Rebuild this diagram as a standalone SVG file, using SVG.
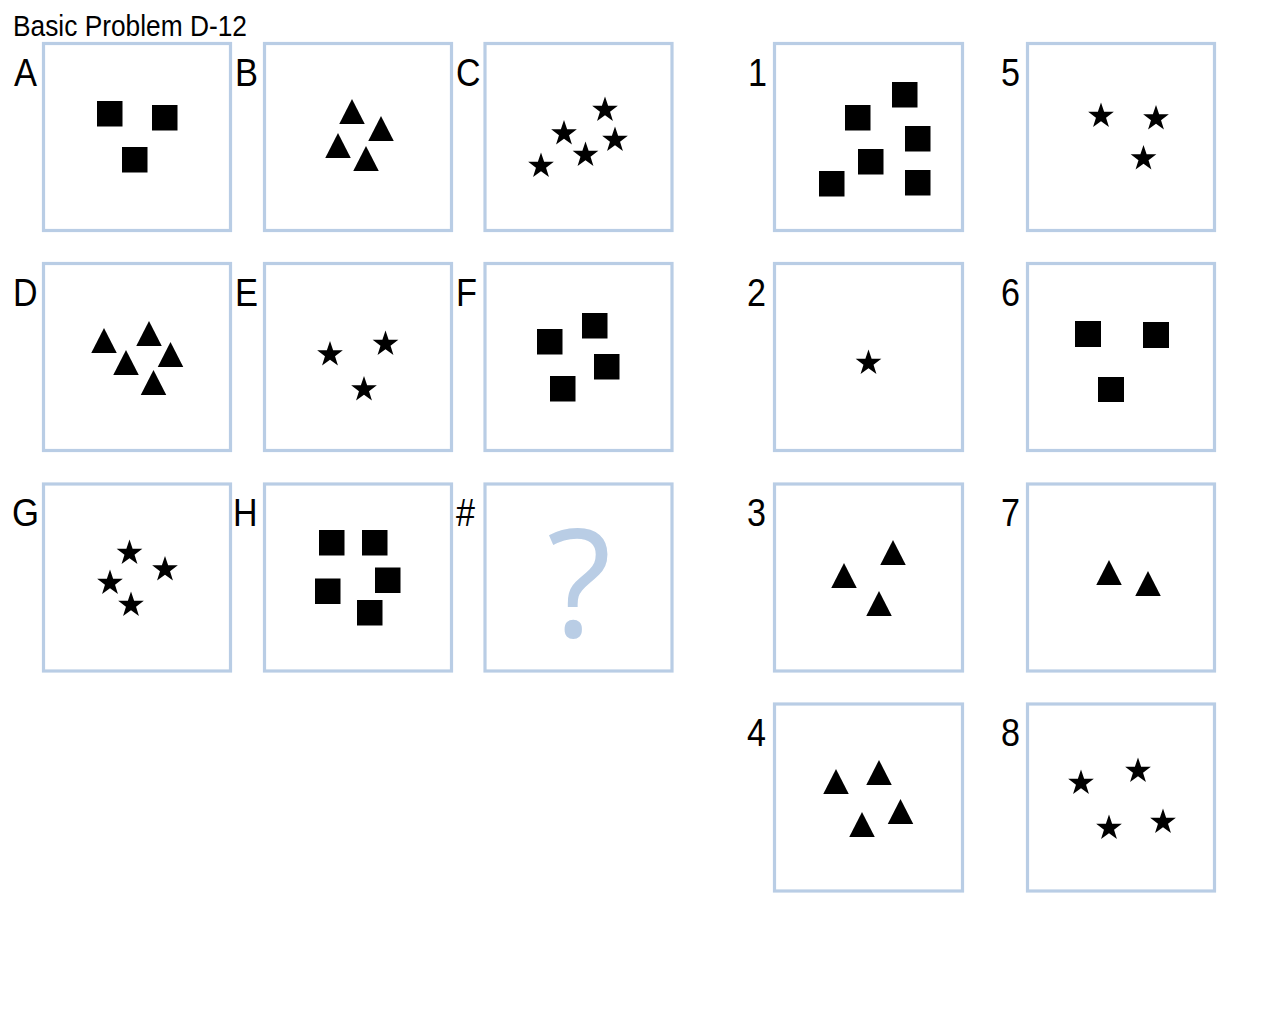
<svg xmlns="http://www.w3.org/2000/svg" xmlns:xlink="http://www.w3.org/1999/xlink" width="1280" height="1024" viewBox="0 0 1280 1024">
<style>
.box{fill:#fff;stroke:#b9cde5;stroke-width:3.2}
.lbl{font-family:"Liberation Sans",Arial,sans-serif;font-size:39px;fill:#000}
.sq{fill:#000}
.q{font-family:"Open Sans","Noto Sans",sans-serif;font-size:150px;fill:#b9cde5;text-anchor:middle}
</style>
<defs>
<path id="star" d="M0,-13.5 L3.12,-4.29 L12.84,-4.17 L5.04,1.64 L7.94,10.92 L0,5.3 L-7.94,10.92 L-5.04,1.64 L-12.84,-4.17 L-3.12,-4.29 Z" fill="#000"/>
<path id="tri" d="M0,-25 L12.75,0 L-12.75,0 Z" fill="#000"/>
</defs>
<rect width="1280" height="1024" fill="#fff"/>
<text x="13" y="36" font-family="Liberation Sans, Arial, sans-serif" font-size="29" textLength="234" lengthAdjust="spacingAndGlyphs">Basic Problem D-12</text>

<g id="panel-A">
<rect class="box" x="43.5" y="43.5" width="187" height="187"/>
<text class="lbl" x="14" y="86" textLength="23" lengthAdjust="spacingAndGlyphs">A</text>
<rect class="sq" x="97" y="101" width="25.5" height="25.5"/>
<rect class="sq" x="152" y="105" width="25.5" height="25.5"/>
<rect class="sq" x="122" y="147" width="25.5" height="25.5"/>
</g>
<g id="panel-B">
<rect class="box" x="264.5" y="43.5" width="187" height="187"/>
<text class="lbl" x="235" y="86" textLength="23" lengthAdjust="spacingAndGlyphs">B</text>
<use xlink:href="#tri" x="352" y="124"/>
<use xlink:href="#tri" x="381" y="141"/>
<use xlink:href="#tri" x="338" y="158"/>
<use xlink:href="#tri" x="366" y="171"/>
</g>
<g id="panel-C">
<rect class="box" x="485" y="43.5" width="187" height="187"/>
<text class="lbl" x="456" y="86" textLength="24.5" lengthAdjust="spacingAndGlyphs">C</text>
<use xlink:href="#star" x="605" y="110"/>
<use xlink:href="#star" x="564" y="133.5"/>
<use xlink:href="#star" x="615" y="140"/>
<use xlink:href="#star" x="585.5" y="155"/>
<use xlink:href="#star" x="541" y="166"/>
</g>

<g id="panel-D">
<rect class="box" x="43.5" y="263.5" width="187" height="187"/>
<text class="lbl" x="13" y="306" textLength="24.5" lengthAdjust="spacingAndGlyphs">D</text>
<use xlink:href="#tri" x="104" y="353"/>
<use xlink:href="#tri" x="149" y="346"/>
<use xlink:href="#tri" x="126" y="375"/>
<use xlink:href="#tri" x="170.5" y="367"/>
<use xlink:href="#tri" x="153.5" y="395"/>
</g>
<g id="panel-E">
<rect class="box" x="264.5" y="263.5" width="187" height="187"/>
<text class="lbl" x="235" y="306" textLength="23" lengthAdjust="spacingAndGlyphs">E</text>
<use xlink:href="#star" x="330" y="354.5"/>
<use xlink:href="#star" x="385.5" y="344"/>
<use xlink:href="#star" x="364" y="389.5"/>
</g>
<g id="panel-F">
<rect class="box" x="485" y="263.5" width="187" height="187"/>
<text class="lbl" x="456" y="306" textLength="21" lengthAdjust="spacingAndGlyphs">F</text>
<rect class="sq" x="537" y="329" width="25.5" height="25.5"/>
<rect class="sq" x="582" y="313" width="25.5" height="25.5"/>
<rect class="sq" x="594" y="354" width="25.5" height="25.5"/>
<rect class="sq" x="550" y="376" width="25.5" height="25.5"/>
</g>

<g id="panel-G">
<rect class="box" x="43.5" y="484" width="187" height="187"/>
<text class="lbl" x="12" y="526" textLength="27" lengthAdjust="spacingAndGlyphs">G</text>
<use xlink:href="#star" x="129.5" y="553"/>
<use xlink:href="#star" x="165" y="569.5"/>
<use xlink:href="#star" x="110" y="583"/>
<use xlink:href="#star" x="131" y="605"/>
</g>
<g id="panel-H">
<rect class="box" x="264.5" y="484" width="187" height="187"/>
<text class="lbl" x="233" y="526" textLength="24.5" lengthAdjust="spacingAndGlyphs">H</text>
<rect class="sq" x="319" y="530" width="25.5" height="25.5"/>
<rect class="sq" x="362" y="530" width="25.5" height="25.5"/>
<rect class="sq" x="375" y="567.5" width="25.5" height="25.5"/>
<rect class="sq" x="315" y="578.5" width="25.5" height="25.5"/>
<rect class="sq" x="357" y="600" width="25.5" height="25.5"/>
</g>
<g id="panel-hash">
<rect class="box" x="485" y="484" width="187" height="187"/>
<text class="lbl" x="456" y="526" textLength="19" lengthAdjust="spacingAndGlyphs">#</text>
<text class="q" x="579" y="637">?</text>
</g>

<g id="panel-1">
<rect class="box" x="774.5" y="43.5" width="188" height="187"/>
<text class="lbl" x="748" y="86" textLength="19" lengthAdjust="spacingAndGlyphs">1</text>
<rect class="sq" x="892" y="82" width="25.5" height="25.5"/>
<rect class="sq" x="845" y="105" width="25.5" height="25.5"/>
<rect class="sq" x="905" y="126" width="25.5" height="25.5"/>
<rect class="sq" x="858" y="149" width="25.5" height="25.5"/>
<rect class="sq" x="819" y="171" width="25.5" height="25.5"/>
<rect class="sq" x="905" y="170" width="25.5" height="25.5"/>
</g>
<g id="panel-5">
<rect class="box" x="1027.5" y="43.5" width="187" height="187"/>
<text class="lbl" x="1001" y="86" textLength="19" lengthAdjust="spacingAndGlyphs">5</text>
<use xlink:href="#star" x="1101" y="116"/>
<use xlink:href="#star" x="1156" y="118.5"/>
<use xlink:href="#star" x="1143.5" y="158.5"/>
</g>
<g id="panel-2">
<rect class="box" x="774.5" y="263.5" width="188" height="187"/>
<text class="lbl" x="747" y="306" textLength="19" lengthAdjust="spacingAndGlyphs">2</text>
<use xlink:href="#star" x="868.5" y="363"/>
</g>
<g id="panel-6">
<rect class="box" x="1027.5" y="263.5" width="187" height="187"/>
<text class="lbl" x="1001" y="306" textLength="19" lengthAdjust="spacingAndGlyphs">6</text>
<rect class="sq" x="1075" y="321" width="26" height="26"/>
<rect class="sq" x="1143" y="322" width="26" height="26"/>
<rect class="sq" x="1098" y="377" width="26" height="25"/>
</g>
<g id="panel-3">
<rect class="box" x="774.5" y="484" width="188" height="187"/>
<text class="lbl" x="747" y="526" textLength="19" lengthAdjust="spacingAndGlyphs">3</text>
<use xlink:href="#tri" x="844" y="588"/>
<use xlink:href="#tri" x="893" y="565"/>
<use xlink:href="#tri" x="879" y="616"/>
</g>
<g id="panel-7">
<rect class="box" x="1027.5" y="484" width="187" height="187"/>
<text class="lbl" x="1001" y="526" textLength="19" lengthAdjust="spacingAndGlyphs">7</text>
<use xlink:href="#tri" x="1109" y="585"/>
<use xlink:href="#tri" x="1148" y="596"/>
</g>
<g id="panel-4">
<rect class="box" x="774.5" y="704" width="188" height="187"/>
<text class="lbl" x="747" y="746" textLength="19" lengthAdjust="spacingAndGlyphs">4</text>
<use xlink:href="#tri" x="836" y="794"/>
<use xlink:href="#tri" x="879" y="785"/>
<use xlink:href="#tri" x="900.5" y="824"/>
<use xlink:href="#tri" x="862" y="837"/>
</g>
<g id="panel-8">
<rect class="box" x="1027.5" y="704" width="187" height="187"/>
<text class="lbl" x="1001" y="746" textLength="19" lengthAdjust="spacingAndGlyphs">8</text>
<use xlink:href="#star" x="1081" y="783"/>
<use xlink:href="#star" x="1138" y="771"/>
<use xlink:href="#star" x="1109" y="828"/>
<use xlink:href="#star" x="1163" y="822"/>
</g>
<g id="connectors"/>
</svg>
